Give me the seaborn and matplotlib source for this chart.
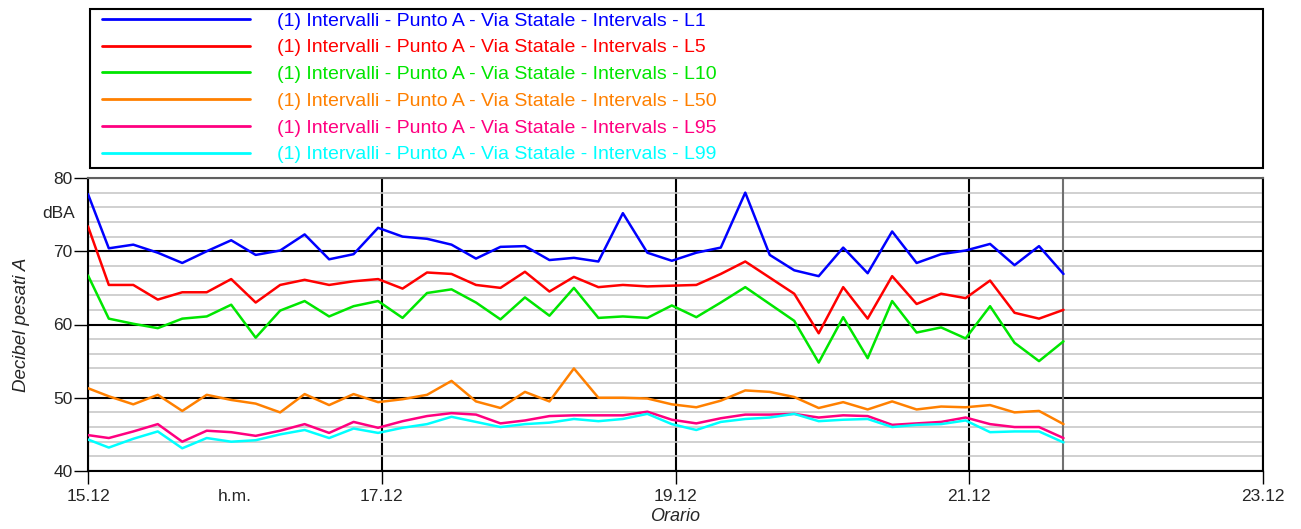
import numpy as np
import pandas as pd
import matplotlib
matplotlib.use("Agg")
import matplotlib.pyplot as plt
import seaborn as sns
from matplotlib.lines import Line2D
from matplotlib.patches import Rectangle
from matplotlib.ticker import MultipleLocator, FixedLocator

# Ore dall'inizio (15.12 00:00), un intervallo ogni 4 ore
ore = [0.0, 3.4, 7.4, 11.4, 15.4, 19.4, 23.4, 27.4, 31.4, 35.4, 39.4,
       43.4, 47.4, 51.4, 55.4, 59.4, 63.4, 67.4, 71.4, 75.4, 79.4,
       83.4, 87.4, 91.4, 95.4, 99.4, 103.4, 107.4, 111.4, 115.4, 119.4,
       123.4, 127.4, 131.4, 135.4, 139.4, 143.4, 147.4, 151.4, 155.4, 159.4]

L1 = [77.8, 70.4, 70.9, 69.8, 68.4, 70.0, 71.5, 69.5, 70.1, 72.3, 68.9,
      69.6, 73.2, 72.0, 71.7, 70.9, 69.0, 70.6, 70.7, 68.8, 69.1,
      68.6, 75.2, 69.8, 68.7, 69.8, 70.5, 78.0, 69.5, 67.4, 66.6,
      70.5, 67.0, 72.7, 68.4, 69.6, 70.1, 71.0, 68.1, 70.7, 66.9]
L5 = [73.4, 65.4, 65.4, 63.4, 64.4, 64.4, 66.2, 63.0, 65.4, 66.1, 65.4,
      65.9, 66.2, 64.9, 67.1, 66.9, 65.4, 65.0, 67.2, 64.5, 66.5,
      65.1, 65.4, 65.2, 65.3, 65.4, 66.9, 68.6, 66.4, 64.2, 58.8,
      65.1, 60.8, 66.6, 62.8, 64.2, 63.6, 66.0, 61.6, 60.8, 62.0]
L10 = [66.7, 60.8, 60.1, 59.5, 60.8, 61.1, 62.7, 58.2, 61.9, 63.2, 61.1,
       62.5, 63.2, 60.9, 64.3, 64.8, 63.0, 60.7, 63.7, 61.2, 65.0,
       60.9, 61.1, 60.9, 62.6, 61.0, 63.0, 65.1, 62.8, 60.5, 54.8,
       61.0, 55.4, 63.2, 58.9, 59.6, 58.1, 62.5, 57.5, 55.0, 57.7]
L50 = [51.3, 50.2, 49.1, 50.4, 48.2, 50.4, 49.7, 49.2, 48.0, 50.5, 49.0,
       50.5, 49.4, 49.8, 50.4, 52.3, 49.5, 48.6, 50.8, 49.5, 54.0,
       50.0, 50.0, 49.9, 49.1, 48.7, 49.6, 51.0, 50.8, 50.1, 48.6,
       49.4, 48.4, 49.5, 48.4, 48.8, 48.7, 49.0, 48.0, 48.2, 46.4]
L95 = [44.9, 44.5, 45.4, 46.4, 44.0, 45.5, 45.3, 44.8, 45.5, 46.4, 45.2,
       46.7, 45.9, 46.8, 47.5, 47.9, 47.7, 46.5, 46.9, 47.5, 47.6,
       47.6, 47.6, 48.1, 47.0, 46.5, 47.2, 47.7, 47.7, 47.8, 47.3,
       47.6, 47.5, 46.3, 46.5, 46.7, 47.3, 46.4, 46.0, 46.0, 44.5]
L99 = [44.3, 43.2, 44.4, 45.4, 43.1, 44.5, 44.0, 44.2, 45.0, 45.6, 44.5,
       45.8, 45.2, 45.9, 46.4, 47.4, 46.7, 46.0, 46.4, 46.6, 47.1,
       46.8, 47.1, 47.8, 46.4, 45.6, 46.7, 47.1, 47.3, 47.8, 46.8,
       47.0, 47.1, 46.0, 46.3, 46.4, 46.9, 45.3, 45.4, 45.4, 43.9]

serie = ["L1", "L5", "L10", "L50", "L95", "L99"]
valori = [L1, L5, L10, L50, L95, L99]
colori = ["#0000ff", "#ff0000", "#00e600", "#ff8000", "#ff0080", "#00ffff"]
prefisso = "(1) Intervalli - Punto A - Via Statale - Intervals - "

x_ticks = [0, 48, 96, 144, 192]
x_labels = ["15.12", "17.12", "19.12", "21.12", "23.12"]

df = pd.concat([pd.DataFrame({"ore": ore, "dB": v, "serie": s})
                for s, v in zip(serie, valori)], ignore_index=True)

sns.set_style("white")
plt.rcParams['font.family'] = ['Liberation Sans', 'DejaVu Sans']

W, H = 1301, 529
fig = plt.figure(figsize=(W / 100, H / 100), dpi=100)
ax = fig.add_axes([88 / W, 58 / H, 1175 / W, 293 / H])

# griglia
ax.set_ylim(40, 80)
ax.set_xlim(0, 192)
ax.yaxis.set_major_locator(MultipleLocator(10))
ax.yaxis.set_minor_locator(MultipleLocator(2))
ax.grid(which='minor', axis='y', color='#c8c8c8', lw=1.2, zorder=0)
ax.grid(which='major', axis='y', color='black', lw=1.5, zorder=1)
ax.grid(which='major', axis='x', color='black', lw=1.5, zorder=1)
ax.axvline(ore[-1], color='#707070', lw=1.5, zorder=1)

sns.lineplot(data=df, x='ore', y='dB', hue='serie', palette=colori,
             hue_order=serie, linewidth=1.8, legend=False, ax=ax, zorder=3)

tick_fs = 12.5
ax.set_xticks(x_ticks)
ax.set_xticklabels(x_labels)
ax.xaxis.set_minor_locator(FixedLocator([24]))
ax.set_xticklabels(["h.m."], minor=True)
ax.tick_params(axis='x', which='major', length=9, width=1, color='black',
               direction='out', pad=4, labelsize=tick_fs, bottom=True)
ax.tick_params(axis='x', which='minor', length=0, pad=13, labelsize=tick_fs,
               bottom=True)
ax.tick_params(axis='y', which='major', length=10, width=1, color='black',
               direction='out', pad=1, labelsize=tick_fs, left=True)
ax.tick_params(axis='y', which='minor', length=0)

for sp in ax.spines.values():
    sp.set_color('black')
    sp.set_linewidth(1.5)
ax.spines['top'].set_color('#606060')

ax.set_xlabel("Orario", fontsize=13, style='italic', labelpad=3)
ax.set_ylabel("Decibel pesati A", fontsize=13.5, style='italic', labelpad=17)
ax.text(-0.011, 75.1, "dBA", transform=ax.get_yaxis_transform(),
        ha='right', va='center', fontsize=tick_fs)

# legenda
fig.patches.append(Rectangle((90 / W, 1 - 168 / H), 1173 / W, 159 / H,
                             transform=fig.transFigure, fill=False,
                             ec='black', lw=1.5))
handles = [Line2D([], [], color=c, lw=2) for c in colori]
labels = [prefisso + s for s in serie]
leg = fig.legend(handles, labels, loc='upper left',
                 bbox_to_anchor=(102 / W, 1 - 12 / H),
                 bbox_transform=fig.transFigure, frameon=False,
                 fontsize=14, handlelength=7.6, handletextpad=1.4,
                 labelspacing=0.47, borderpad=0, borderaxespad=0)
for t, c in zip(leg.get_texts(), colori):
    t.set_color(c)

fig.savefig("out.png", dpi=100)
